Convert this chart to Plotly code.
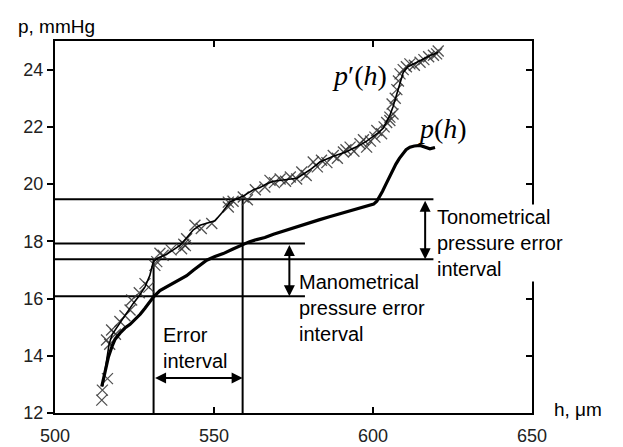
import plotly.graph_objects as go

# ---- data ----
# p(h): manometric curve (thick line)
p_h = [514.7, 515.8, 516.8, 518.0, 518.9, 520.5, 522.0, 523.6, 525.2, 526.8, 528.3, 529.8,
       531.0, 533.0, 535.1, 537.2, 539.3, 541.4, 543.5, 545.6, 547.7, 550.3, 552.9, 555.8,
       558.7, 561.0, 563.4, 566.0, 568.7, 572.0, 575.5, 579.2, 583.0, 586.3, 589.6, 593.0,
       596.0, 598.5, 600.2, 601.2, 602.1, 603.0, 604.0, 605.0, 606.1, 607.2, 608.3, 609.3,
       610.4, 611.6, 613.0, 614.8, 616.3, 617.9, 619.5]
p_p = [12.92, 13.5, 13.96, 14.35, 14.58, 14.8, 14.97, 15.1, 15.26, 15.45, 15.66, 15.88,
       16.06, 16.28, 16.41, 16.52, 16.64, 16.8, 16.99, 17.18, 17.34, 17.47, 17.57, 17.72,
       17.88, 17.98, 18.06, 18.13, 18.25, 18.37, 18.48, 18.61, 18.75, 18.86, 18.96, 19.06,
       19.15, 19.22, 19.3, 19.4, 19.55, 19.75, 19.98, 20.22, 20.47, 20.7, 20.9, 21.06,
       21.2, 21.29, 21.33, 21.35, 21.3, 21.23, 21.28]

# p'(h): tonometric curve (thin line)
pp_h = [515.0, 516.0, 517.0, 518.0, 519.5, 521.5, 523.0, 524.6, 526.5, 528.3, 529.8, 530.9,
        532.0, 533.5, 535.1, 537.2, 539.3, 541.4, 543.5, 545.6, 548.0, 550.3, 552.5, 555.0,
        557.0, 559.2, 560.3, 562.4, 564.5, 566.6, 568.7, 570.8, 573.5, 576.0, 578.0, 580.2,
        583.3, 585.5, 587.5, 589.6, 591.7, 593.8, 595.9, 598.0, 600.1, 601.7, 603.2, 604.3,
        605.3, 606.3, 607.0, 607.8, 608.5, 609.5, 611.0, 612.7, 614.8, 616.9, 618.5, 620.5]
pp_p = [12.95, 13.7, 14.4, 14.75, 15.0, 15.3, 15.55, 15.83, 16.1, 16.41, 16.8, 17.28,
        17.4, 17.46, 17.55, 17.7, 17.86, 18.12, 18.4, 18.56, 18.64, 18.72, 19.0, 19.37,
        19.48, 19.58, 19.66, 19.8, 19.88, 20.01, 20.1, 20.14, 20.17, 20.2, 20.35, 20.5,
        20.77, 20.88, 20.97, 21.05, 21.13, 21.25, 21.36, 21.5, 21.66, 21.8, 21.95, 22.2,
        22.4, 22.7, 22.95, 23.25, 23.55, 23.9, 24.1, 24.2, 24.3, 24.42, 24.52, 24.6]

# measured points of p'(h) (x markers)
m_h = [514.7, 514.9, 516.5, 516.2, 517.2, 517.8, 519.0, 520.4, 522.0, 523.6, 524.1, 526.5,
       528.3, 529.5, 531.4, 532.0, 533.0, 534.0, 536.5, 539.8, 540.5, 541.4, 541.0, 544.0,
       546.0, 549.3, 554.5, 554.5, 556.0, 559.2, 560.5, 563.0, 566.0,
       567.6, 569.0, 570.8, 572.5, 574.0, 576.0, 577.6, 579.0, 581.2, 582.5, 583.8, 585.5,
       587.5, 588.8, 590.7, 591.5, 592.8, 594.0, 595.9, 597.0, 598.0, 599.2, 600.6, 601.2,
       602.7, 603.5, 604.3, 605.3, 605.3, 606.3, 606.0, 607.0, 607.5, 608.0, 608.5, 609.5,
       610.5, 611.6, 613.0, 614.8, 616.0, 617.5, 619.0, 620.0, 620.5]
m_p = [12.45, 12.8, 13.2, 14.55, 14.4, 14.9, 14.75, 15.2, 15.4, 15.6, 15.95, 16.2,
       16.52, 16.4, 17.16, 17.29, 17.58, 17.51, 17.7, 17.74, 17.9, 18.09, 17.85, 18.56,
       18.45, 18.62, 19.37, 19.2, 19.4, 19.55, 19.45, 19.8, 19.9,
       20.13, 20.05, 20.18, 20.1, 20.25, 20.18, 20.42, 20.3, 20.77, 20.6, 20.83, 20.75,
       21.0, 20.9, 21.12, 21.2, 21.29, 21.15, 21.41, 21.55, 21.29, 21.5, 21.64, 21.87,
       21.76, 22.0, 22.15, 22.22, 22.34, 22.45, 22.8, 23.0, 23.3, 23.6, 23.85, 24.0,
       24.1, 24.2, 24.15, 24.26, 24.35, 24.45, 24.5, 24.55, 24.65]

# reference lines
hline_p = [19.47, 17.92, 17.37, 16.08]
hline_start = [500, 500, 500, 500]
hline_end = [619.0, 578.6, 619.0, 578.6]
vline_h = [531.0, 559.0]
vline_bottom = [12, 12]
vline_top = [17.37, 19.47]

# interval arrows: (x0, y0, x1, y1)
arrow_x0 = [531.0, 573.7, 616.4]
arrow_y0 = [13.22, 17.92, 19.47]
arrow_x1 = [559.0, 573.7, 616.4]
arrow_y1 = [13.22, 16.08, 17.37]

x_ticks = [500, 550, 600, 650]
y_ticks = [12, 14, 16, 18, 20, 22, 24]

SANS = "Liberation Sans, Arial, sans-serif"
SERIF = "Liberation Serif, Times New Roman, serif"

fig = go.Figure()

for y, x0, x1 in zip(hline_p, hline_start, hline_end):
    fig.add_trace(go.Scatter(x=[x0, x1], y=[y, y], mode="lines",
                             line=dict(color="black", width=2), showlegend=False, hoverinfo="skip"))
for x, y0, y1 in zip(vline_h, vline_bottom, vline_top):
    fig.add_trace(go.Scatter(x=[x, x], y=[y0, y1], mode="lines",
                             line=dict(color="black", width=2), showlegend=False, hoverinfo="skip"))

fig.add_trace(go.Scatter(x=m_h, y=m_p, mode="markers",
                         marker=dict(symbol="x-thin-open", size=11, color="rgba(50,50,50,0.85)",
                                     line=dict(color="rgba(50,50,50,0.85)", width=1.3)),
                         showlegend=False, hoverinfo="skip"))
fig.add_trace(go.Scatter(x=pp_h, y=pp_p, mode="lines",
                         line=dict(color="black", width=1.6), showlegend=False))
fig.add_trace(go.Scatter(x=p_h, y=p_p, mode="lines",
                         line=dict(color="black", width=3.2), showlegend=False))

fig.add_trace(go.Scatter(x=[500], y=[12], yaxis="y2", mode="markers",
                         marker=dict(opacity=0), showlegend=False, hoverinfo="skip"))

annotations = []
for x0, y0, x1, y1 in zip(arrow_x0, arrow_y0, arrow_x1, arrow_y1):
    annotations.append(dict(x=x1, y=y1, ax=x0, ay=y0, xref="x", yref="y",
                            axref="x", ayref="y", text="", showarrow=True,
                            arrowhead=2, arrowside="end+start", arrowsize=1.1,
                            arrowwidth=2, arrowcolor="black", standoff=0, startstandoff=0))

annotations += [
    dict(x=533.3, y=14.28, xref="x", yref="y", text="Error<br>interval", showarrow=False,
         xanchor="left", yanchor="middle", align="left", font=dict(family=SANS, size=20, color="black")),
    dict(x=576.0, y=15.66, xref="x", yref="y", text="Manometrical<br>pressure error<br>interval",
         showarrow=False, xanchor="left", yanchor="middle", align="left",
         font=dict(family=SANS, size=20, color="black")),
    dict(x=619.5, y=17.94, xref="x", yref="y", text="Tonometrical<br>pressure error<br>interval",
         showarrow=False, xanchor="left", yanchor="middle", align="left", bgcolor="white",
         font=dict(family=SANS, size=20, color="black")),
    dict(x=595.9, y=23.79, xref="x", yref="y", text="<i>p</i>′(<i>h</i>)", showarrow=False,
         xanchor="center", yanchor="middle", font=dict(family=SERIF, size=28, color="black")),
    dict(x=622.0, y=21.94, xref="x", yref="y", text="<i>p</i>(<i>h</i>)", showarrow=False,
         xanchor="center", yanchor="middle", font=dict(family=SERIF, size=28, color="black")),
    dict(x=-0.082, y=1.04, xref="paper", yref="paper", text="p, mmHg", showarrow=False,
         xanchor="left", yanchor="middle", font=dict(family=SANS, size=19, color="black")),
    dict(x=1.042, y=0.01, xref="paper", yref="paper", text="h, μm", showarrow=False,
         xanchor="left", yanchor="middle", font=dict(family=SANS, size=19, color="black")),
]

fig.update_layout(
    width=623, height=447, autosize=False,
    margin=dict(l=55, r=91, t=41, b=34, autoexpand=False),
    paper_bgcolor="white", plot_bgcolor="white",
    showlegend=False,
    annotations=annotations,
    xaxis=dict(range=[500, 650], tickvals=x_ticks, ticktext=[str(v) for v in x_ticks],
               ticks="inside", ticklen=6, tickwidth=1.5, tickcolor="black",
               showline=True, linecolor="black", linewidth=2, mirror="ticks",
               showgrid=False, zeroline=False, automargin=False, ticklabelstandoff=5,
               tickfont=dict(family=SANS, size=18, color="#222")),
    yaxis=dict(range=[12, 25], tickvals=y_ticks, ticktext=[str(v) for v in y_ticks],
               ticks="outside", ticklen=6, tickwidth=1.5, tickcolor="black",
               showline=True, linecolor="black", linewidth=2, mirror=False,
               showgrid=False, zeroline=False, automargin=False,
               tickfont=dict(family=SANS, size=18, color="#222")),
    yaxis2=dict(range=[12, 25], tickvals=y_ticks, overlaying="y", side="right",
                ticks="inside", ticklen=6, tickwidth=1.5, tickcolor="black",
                showticklabels=False, showline=True, linecolor="black", linewidth=2,
                showgrid=False, zeroline=False, automargin=False),
)

fig.write_html("out.html", config={"displayModeBar": False},
               post_script="document.body.style.margin='0';document.body.style.padding='0';")
